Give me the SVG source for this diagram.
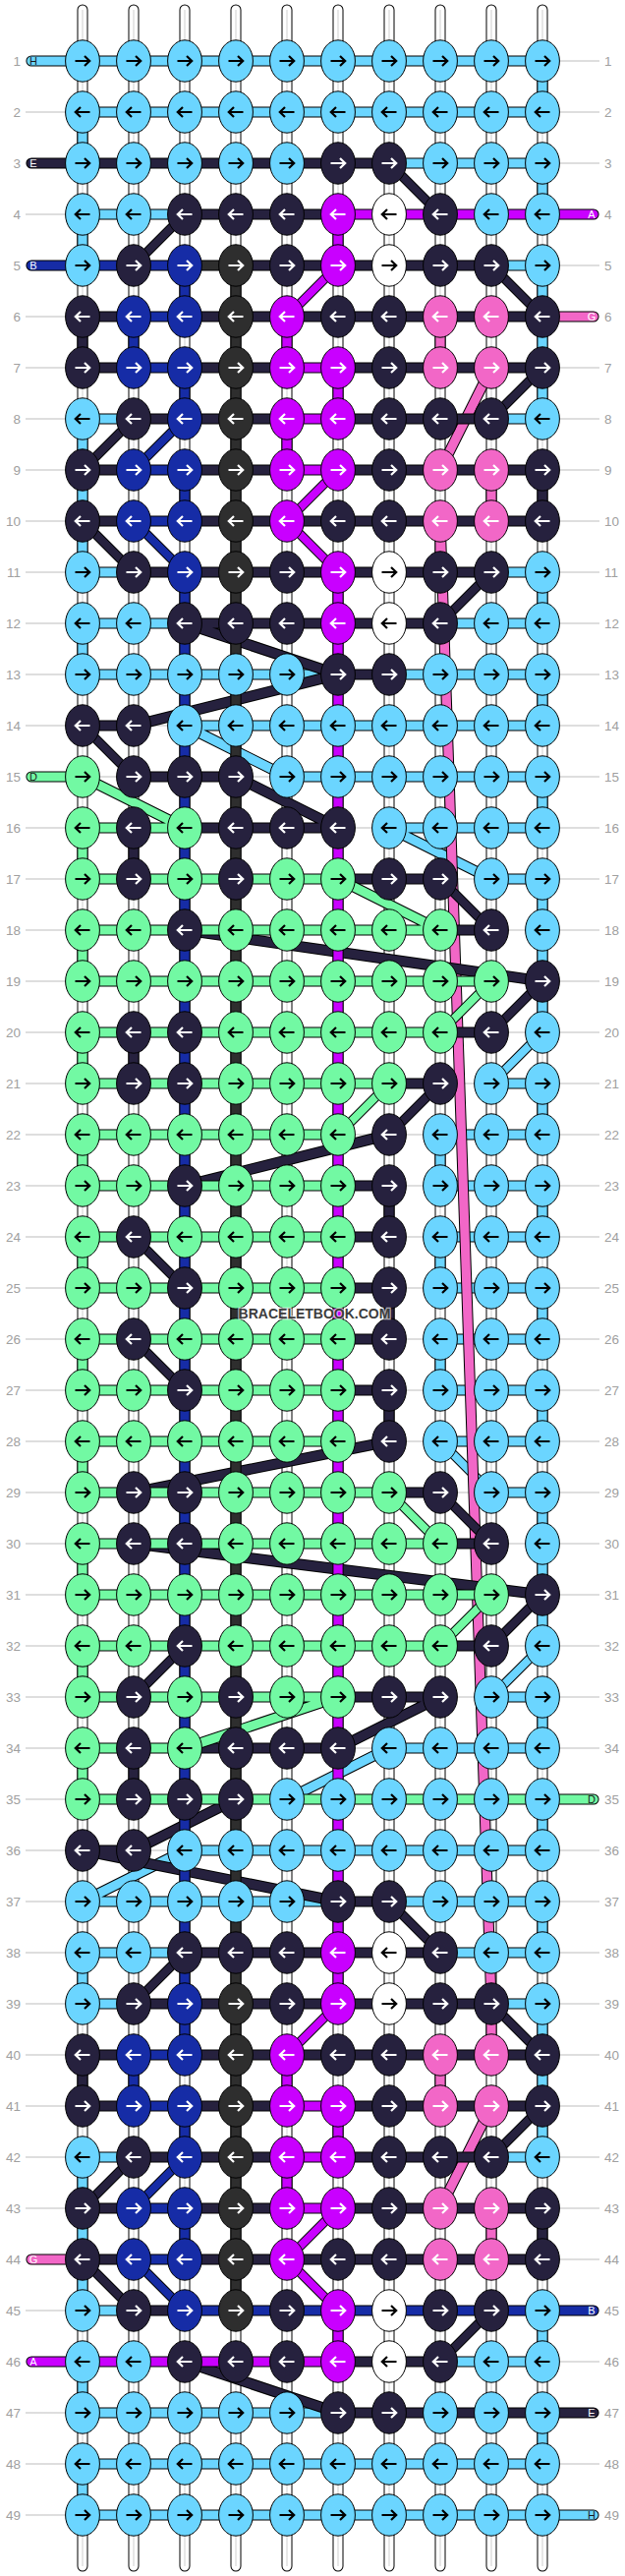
<svg xmlns="http://www.w3.org/2000/svg" width="636" height="2620" viewBox="0 0 636 2620">
<style>
text{font-family:"Liberation Sans",Arial,sans-serif}
.lab{font-size:13.5px;fill:#a0a0a0}
.r{text-anchor:start}.l{text-anchor:end}
.tag{font-size:11px;text-anchor:middle}
.dk{fill:#1a1a1a}.wh{fill:#fff}
.mark{font-size:14px;font-weight:bold;text-anchor:middle;fill:#3c3c3c;stroke:#fff;stroke-opacity:.65;stroke-width:2.4px;paint-order:stroke}
#connectors path,#connectors use{fill:none}
.o{stroke:#000;stroke-width:11.2}.i{stroke-width:9.2}
.od{stroke:#000;stroke-width:9.8}.id{stroke-width:7.8}
.rc{stroke-linecap:round}
.L{stroke:#6bd5ff}.K{stroke:#26213e}.N{stroke:#162ca6}.G{stroke:#2e2e2e}.P{stroke:#c900ff}.M{stroke:#f267c7}.T{stroke:#72f9a3}
.gr{stroke:#bdbdbd;stroke-width:1}
.e{stroke:#000;stroke-width:1}
.fL{fill:#6bd5ff}.fK{fill:#26213e}.fN{fill:#162ca6}.fG{fill:#2e2e2e}.fP{fill:#c900ff}.fM{fill:#f267c7}.fT{fill:#72f9a3}.fW{fill:#fff}
.aw,.ab{fill:none;stroke-width:2.2}.aw{stroke:#fff}.ab{stroke:#000}
</style>
<defs>
<ellipse id="e" rx="17.4" ry="21.2"/>
<path id="ar" d="M-7.5 0H6.5M2 -5L7.2 0L2 5"/>
<path id="al" d="M7.5 0H-6.5M-2 -5L-7.2 0L-2 5"/>
<g id="Lr"><use href="#e" class="fL e"/><use href="#ar" class="ab"/></g>
<g id="Ll"><use href="#e" class="fL e"/><use href="#al" class="ab"/></g>
<g id="Tr"><use href="#e" class="fT e"/><use href="#ar" class="ab"/></g>
<g id="Tl"><use href="#e" class="fT e"/><use href="#al" class="ab"/></g>
<g id="Wr"><use href="#e" class="fW e"/><use href="#ar" class="ab"/></g>
<g id="Wl"><use href="#e" class="fW e"/><use href="#al" class="ab"/></g>
<g id="Kr"><use href="#e" class="fK e"/><use href="#ar" class="aw"/></g>
<g id="Kl"><use href="#e" class="fK e"/><use href="#al" class="aw"/></g>
<g id="Nr"><use href="#e" class="fN e"/><use href="#ar" class="aw"/></g>
<g id="Nl"><use href="#e" class="fN e"/><use href="#al" class="aw"/></g>
<g id="Gr"><use href="#e" class="fG e"/><use href="#ar" class="aw"/></g>
<g id="Gl"><use href="#e" class="fG e"/><use href="#al" class="aw"/></g>
<g id="Pr"><use href="#e" class="fP e"/><use href="#ar" class="aw"/></g>
<g id="Pl"><use href="#e" class="fP e"/><use href="#al" class="aw"/></g>
<g id="Mr"><use href="#e" class="fM e"/><use href="#ar" class="aw"/></g>
<g id="Ml"><use href="#e" class="fM e"/><use href="#al" class="aw"/></g>
<path id="w" d="M84 10V2610M136 10V2610M188 10V2610M240 10V2610M292 10V2610M344 10V2610M396 10V2610M448 10V2610M500 10V2610M552 10V2610"/>
<path id="bL" d="M84 62H552M84 114H552M396 166H552M84 218H188M500 270H552M84 426H136M500 426H552M84 582H136M500 582H552M84 634H188M448 634H552M84 686H344M396 686H552M188 738H552M292 790H552M396 842H552M500 894H552M500 1102H552M448 1154H552M448 1206H552M448 1258H552M448 1310H552M448 1362H552M448 1414H552M448 1466H552M500 1518H552M500 1726H552M396 1778H552M188 1882H552M84 1934H344M396 1934H552M84 1986H188M448 1986H552M84 2038H136M500 2038H552M84 2194H136M500 2194H552M84 2350H136M448 2402H552M84 2454H344M84 2506H552M84 2558H552
M84 114V166M84 218V270M84 426V478M84 478V530M84 530V582M84 634V686M84 1986V2038M84 2194V2246M84 2246V2298M84 2298V2350M84 2402V2454M84 2506V2558
M552 62V114M552 166V218M552 270V322M552 322V374M552 374V426M552 582V634M552 686V738M552 790V842M552 894V946M552 946V998M552 998V1050M552 1102V1154M552 1206V1258M552 1310V1362M552 1414V1466M552 1518V1570M552 1570V1622M552 1622V1674M552 1726V1778M552 1830V1882M552 1934V1986M552 2038V2090M552 2090V2142M552 2142V2194M552 2350V2402M552 2454V2506
M448 1154V1206M448 1258V1310M448 1362V1414
M188 738L292 790M396 842L500 894M396 1778L292 1830M188 1882L84 1934"/>
<path id="dL" d="M552 1050L500 1102M448 1466L500 1518M552 1674L500 1726"/>
<path id="bM" d="M448 530L500 2038M500 374L448 478M500 2142L448 2246M448 322V374M448 530V582M448 2090V2142M500 478V530M500 2038V2090M500 2246V2298"/>
<path id="bK" d="M84 166H396M188 218H344M240 270H500M84 322H136M188 322H552M84 374H136M188 374H292M344 374H552M136 426H292M344 426H500M84 478H136M188 478H292M344 478H552M84 530H136M188 530H552M136 582H500M188 634H448M344 686H396M84 738H136M136 790H240M188 842H344M344 894H448M448 946H500M448 1050H500M396 1102H448M344 1206H396M344 1258H396M344 1310H396M344 1362H396M344 1414H396M396 1518H448M448 1570H500M448 1674H500M344 1726H448M188 1778H344M84 1882H136M344 1934H396M188 1986H448M136 2038H500M84 2090H136M188 2090H552M84 2142H136M188 2142H292M344 2142H552M136 2194H292M344 2194H500M84 2246H136M188 2246H292M344 2246H552M84 2298H136M188 2298H552M136 2350H188M344 2402H448M344 2454H552
M84 322V374M84 2090V2142M136 842V894M136 1050V1102M136 1778V1830M396 1206V1258M396 1310V1362M396 1414V1466M552 478V530M552 2246V2298
M188 634L344 686M136 738L344 686M240 790L344 842M188 946L552 998M396 1154L188 1206M396 1466L136 1518M136 1570L552 1622M448 1726L344 1778M240 1830L136 1882M84 1882L344 1934M188 2402L344 2454"/>
<path id="dK" d="M396 166L448 218M188 218L136 270M500 270L552 322M552 374L500 426M136 426L84 478M84 530L136 582M500 582L448 634M84 738L136 790M448 894L500 946M552 998L500 1050M448 1102L396 1154M136 1258L188 1310M136 1362L188 1414M448 1518L500 1570M552 1622L500 1674M188 1674L136 1726M396 1934L448 1986M188 1986L136 2038M500 2038L552 2090M552 2142L500 2194M136 2194L84 2246M84 2298L136 2350M500 2350L448 2402"/>
<path id="bT" d="M84 842H188M84 894H344M84 946H448M84 998H500M84 1050H448M84 1102H396M84 1154H344M84 1206H344M84 1258H344M84 1310H344M84 1362H344M84 1414H344M84 1466H344M84 1518H396M84 1570H448M84 1622H500M84 1674H448M84 1726H344M84 1778H188M84 1830H552
M84 842V894M84 946V998M84 1050V1102M84 1154V1206M84 1258V1310M84 1362V1414M84 1466V1518M84 1570V1622M84 1674V1726M84 1778V1830
M84 790L188 842M344 894L448 946M344 1726L188 1778"/>
<path id="dT" d="M500 998L448 1050M396 1102L344 1154M396 1518L448 1570M500 1622L448 1674"/>
<path id="bG" d="M188 270H240M240 270V2350"/>
<path id="bN" d="M84 270H188M136 322H188M136 374H188M136 478H188M136 530H188M136 2090H188M136 2142H188M136 2246H188M136 2298H188M188 2350H552
M136 322V374M136 2090V2142M188 270V322M188 374V426M188 478V530M188 582V2090M188 2142V2194M188 2246V2298"/>
<path id="dN" d="M188 426L136 478M136 530L188 582M188 2194L136 2246M136 2298L188 2350"/>
<path id="bP" d="M344 218H552M292 374H344M292 426H344M292 478H344M292 2142H344M292 2194H344M292 2246H344M84 2402H344
M344 218V270M344 374V426M344 582V2038M344 2142V2194M344 2350V2402M292 322V374M292 426V478M292 2090V2142M292 2194V2246"/>
<path id="dP" d="M344 270L292 322M344 478L292 530M292 530L344 582M344 2038L292 2090M344 2246L292 2298M292 2298L344 2350"/>
</defs>
<rect width="636" height="2620" fill="#fff"/>
<g id="guides">
<path class="gr" d="M136 738H188M84 790H136M240 790H292M344 842H396M448 894H500M500 946H552M500 998H552M500 1050H552M448 1102H500M344 1154H448M396 1206H448M396 1258H448M396 1310H448M396 1362H448M396 1414H448M344 1466H448M448 1518H500M500 1570H552M500 1622H552M500 1674H552M448 1726H500M344 1778H396M136 1882H188
M26 114H67M26 218H67M26 322H67M26 374H67M26 426H67M26 478H67M26 530H67M26 582H67M26 634H67M26 686H67M26 738H67M26 842H67M26 894H67M26 946H67M26 998H67M26 1050H67M26 1102H67M26 1154H67M26 1206H67M26 1258H67M26 1310H67M26 1362H67M26 1414H67M26 1466H67M26 1518H67M26 1570H67M26 1622H67M26 1674H67M26 1726H67M26 1778H67M26 1830H67M26 1882H67M26 1934H67M26 1986H67M26 2038H67M26 2090H67M26 2142H67M26 2194H67M26 2246H67M26 2350H67M26 2454H67M26 2506H67M26 2558H67M26 166H26M26 270H26
M570 62H610M570 114H610M570 166H610M570 270H610M570 374H610M570 426H610M570 478H610M570 530H610M570 582H610M570 634H610M570 686H610M570 738H610M570 790H610M570 842H610M570 894H610M570 946H610M570 998H610M570 1050H610M570 1102H610M570 1154H610M570 1206H610M570 1258H610M570 1310H610M570 1362H610M570 1414H610M570 1466H610M570 1518H610M570 1570H610M570 1622H610M570 1674H610M570 1726H610M570 1778H610M570 1882H610M570 1934H610M570 1986H610M570 2038H610M570 2090H610M570 2142H610M570 2194H610M570 2246H610M570 2298H610M570 2402H610M570 2506H610"/>
</g>
<g id="connectors">
<use href="#w" class="rc" stroke="#000" stroke-width="11"/>
<use href="#w" class="rc" stroke="#fff" stroke-width="9"/>
<use href="#w" stroke="#cfcfcf" stroke-width="1"/>
<use href="#bL" class="o"/><use href="#dL" class="od"/><use href="#bL" class="i L"/><use href="#dL" class="id L"/>
<use href="#bM" class="o"/><use href="#bM" class="i M"/>
<use href="#bK" class="o"/><use href="#dK" class="od"/><use href="#bK" class="i K"/><use href="#dK" class="id K"/>
<use href="#bT" class="o"/><use href="#dT" class="od"/><use href="#bT" class="i T"/><use href="#dT" class="id T"/>
<use href="#bG" class="o"/><use href="#bG" class="i G"/>
<use href="#bN" class="o"/><use href="#dN" class="od"/><use href="#bN" class="i N"/><use href="#dN" class="id N"/>
<use href="#bP" class="o"/><use href="#dP" class="od"/><use href="#bP" class="i P"/><use href="#dP" class="id P"/>
<g id="tails">
<path class="o rc" d="M32 62H84M32 166H84M32 270H84M32 790H84M32 2298H84M32 2402H84M552 218H604M552 322H604M552 1830H604M552 2350H604M552 2454H604M552 2558H604"/>
<path class="i rc L" d="M32 62H84M552 2558H604"/>
<path class="i rc K" d="M32 166H84M552 2454H604"/>
<path class="i rc N" d="M32 270H84M552 2350H604"/>
<path class="i rc T" d="M32 790H84M552 1830H604"/>
<path class="i rc M" d="M32 2298H84M552 322H604"/>
<path class="i rc P" d="M32 2402H84M552 218H604"/>
</g>
</g>
<g id="nodes">
<g id="n1-1"><use href="#Lr" x="84" y="62"/></g><g id="n1-2"><use href="#Lr" x="136" y="62"/></g><g id="n1-3"><use href="#Lr" x="188" y="62"/></g><g id="n1-4"><use href="#Lr" x="240" y="62"/></g><g id="n1-5"><use href="#Lr" x="292" y="62"/></g><g id="n1-6"><use href="#Lr" x="344" y="62"/></g><g id="n1-7"><use href="#Lr" x="396" y="62"/></g><g id="n1-8"><use href="#Lr" x="448" y="62"/></g><g id="n1-9"><use href="#Lr" x="500" y="62"/></g><g id="n1-10"><use href="#Lr" x="552" y="62"/></g>
<g id="n2-1"><use href="#Ll" x="84" y="114"/></g><g id="n2-2"><use href="#Ll" x="136" y="114"/></g><g id="n2-3"><use href="#Ll" x="188" y="114"/></g><g id="n2-4"><use href="#Ll" x="240" y="114"/></g><g id="n2-5"><use href="#Ll" x="292" y="114"/></g><g id="n2-6"><use href="#Ll" x="344" y="114"/></g><g id="n2-7"><use href="#Ll" x="396" y="114"/></g><g id="n2-8"><use href="#Ll" x="448" y="114"/></g><g id="n2-9"><use href="#Ll" x="500" y="114"/></g><g id="n2-10"><use href="#Ll" x="552" y="114"/></g>
<g id="n3-1"><use href="#Lr" x="84" y="166"/></g><g id="n3-2"><use href="#Lr" x="136" y="166"/></g><g id="n3-3"><use href="#Lr" x="188" y="166"/></g><g id="n3-4"><use href="#Lr" x="240" y="166"/></g><g id="n3-5"><use href="#Lr" x="292" y="166"/></g><g id="n3-6"><use href="#Kr" x="344" y="166"/></g><g id="n3-7"><use href="#Kr" x="396" y="166"/></g><g id="n3-8"><use href="#Lr" x="448" y="166"/></g><g id="n3-9"><use href="#Lr" x="500" y="166"/></g><g id="n3-10"><use href="#Lr" x="552" y="166"/></g>
<g id="n4-1"><use href="#Ll" x="84" y="218"/></g><g id="n4-2"><use href="#Ll" x="136" y="218"/></g><g id="n4-3"><use href="#Kl" x="188" y="218"/></g><g id="n4-4"><use href="#Kl" x="240" y="218"/></g><g id="n4-5"><use href="#Kl" x="292" y="218"/></g><g id="n4-6"><use href="#Pl" x="344" y="218"/></g><g id="n4-7"><use href="#Wl" x="396" y="218"/></g><g id="n4-8"><use href="#Kl" x="448" y="218"/></g><g id="n4-9"><use href="#Ll" x="500" y="218"/></g><g id="n4-10"><use href="#Ll" x="552" y="218"/></g>
<g id="n5-1"><use href="#Lr" x="84" y="270"/></g><g id="n5-2"><use href="#Kr" x="136" y="270"/></g><g id="n5-3"><use href="#Nr" x="188" y="270"/></g><g id="n5-4"><use href="#Gr" x="240" y="270"/></g><g id="n5-5"><use href="#Kr" x="292" y="270"/></g><g id="n5-6"><use href="#Pr" x="344" y="270"/></g><g id="n5-7"><use href="#Wr" x="396" y="270"/></g><g id="n5-8"><use href="#Kr" x="448" y="270"/></g><g id="n5-9"><use href="#Kr" x="500" y="270"/></g><g id="n5-10"><use href="#Lr" x="552" y="270"/></g>
<g id="n6-1"><use href="#Kl" x="84" y="322"/></g><g id="n6-2"><use href="#Nl" x="136" y="322"/></g><g id="n6-3"><use href="#Nl" x="188" y="322"/></g><g id="n6-4"><use href="#Gl" x="240" y="322"/></g><g id="n6-5"><use href="#Pl" x="292" y="322"/></g><g id="n6-6"><use href="#Kl" x="344" y="322"/></g><g id="n6-7"><use href="#Kl" x="396" y="322"/></g><g id="n6-8"><use href="#Ml" x="448" y="322"/></g><g id="n6-9"><use href="#Ml" x="500" y="322"/></g><g id="n6-10"><use href="#Kl" x="552" y="322"/></g>
<g id="n7-1"><use href="#Kr" x="84" y="374"/></g><g id="n7-2"><use href="#Nr" x="136" y="374"/></g><g id="n7-3"><use href="#Nr" x="188" y="374"/></g><g id="n7-4"><use href="#Gr" x="240" y="374"/></g><g id="n7-5"><use href="#Pr" x="292" y="374"/></g><g id="n7-6"><use href="#Pr" x="344" y="374"/></g><g id="n7-7"><use href="#Kr" x="396" y="374"/></g><g id="n7-8"><use href="#Mr" x="448" y="374"/></g><g id="n7-9"><use href="#Mr" x="500" y="374"/></g><g id="n7-10"><use href="#Kr" x="552" y="374"/></g>
<g id="n8-1"><use href="#Ll" x="84" y="426"/></g><g id="n8-2"><use href="#Kl" x="136" y="426"/></g><g id="n8-3"><use href="#Nl" x="188" y="426"/></g><g id="n8-4"><use href="#Gl" x="240" y="426"/></g><g id="n8-5"><use href="#Pl" x="292" y="426"/></g><g id="n8-6"><use href="#Pl" x="344" y="426"/></g><g id="n8-7"><use href="#Kl" x="396" y="426"/></g><g id="n8-8"><use href="#Kl" x="448" y="426"/></g><g id="n8-9"><use href="#Kl" x="500" y="426"/></g><g id="n8-10"><use href="#Ll" x="552" y="426"/></g>
<g id="n9-1"><use href="#Kr" x="84" y="478"/></g><g id="n9-2"><use href="#Nr" x="136" y="478"/></g><g id="n9-3"><use href="#Nr" x="188" y="478"/></g><g id="n9-4"><use href="#Gr" x="240" y="478"/></g><g id="n9-5"><use href="#Pr" x="292" y="478"/></g><g id="n9-6"><use href="#Pr" x="344" y="478"/></g><g id="n9-7"><use href="#Kr" x="396" y="478"/></g><g id="n9-8"><use href="#Mr" x="448" y="478"/></g><g id="n9-9"><use href="#Mr" x="500" y="478"/></g><g id="n9-10"><use href="#Kr" x="552" y="478"/></g>
<g id="n10-1"><use href="#Kl" x="84" y="530"/></g><g id="n10-2"><use href="#Nl" x="136" y="530"/></g><g id="n10-3"><use href="#Nl" x="188" y="530"/></g><g id="n10-4"><use href="#Gl" x="240" y="530"/></g><g id="n10-5"><use href="#Pl" x="292" y="530"/></g><g id="n10-6"><use href="#Kl" x="344" y="530"/></g><g id="n10-7"><use href="#Kl" x="396" y="530"/></g><g id="n10-8"><use href="#Ml" x="448" y="530"/></g><g id="n10-9"><use href="#Ml" x="500" y="530"/></g><g id="n10-10"><use href="#Kl" x="552" y="530"/></g>
<g id="n11-1"><use href="#Lr" x="84" y="582"/></g><g id="n11-2"><use href="#Kr" x="136" y="582"/></g><g id="n11-3"><use href="#Nr" x="188" y="582"/></g><g id="n11-4"><use href="#Gr" x="240" y="582"/></g><g id="n11-5"><use href="#Kr" x="292" y="582"/></g><g id="n11-6"><use href="#Pr" x="344" y="582"/></g><g id="n11-7"><use href="#Wr" x="396" y="582"/></g><g id="n11-8"><use href="#Kr" x="448" y="582"/></g><g id="n11-9"><use href="#Kr" x="500" y="582"/></g><g id="n11-10"><use href="#Lr" x="552" y="582"/></g>
<g id="n12-1"><use href="#Ll" x="84" y="634"/></g><g id="n12-2"><use href="#Ll" x="136" y="634"/></g><g id="n12-3"><use href="#Kl" x="188" y="634"/></g><g id="n12-4"><use href="#Kl" x="240" y="634"/></g><g id="n12-5"><use href="#Kl" x="292" y="634"/></g><g id="n12-6"><use href="#Pl" x="344" y="634"/></g><g id="n12-7"><use href="#Wl" x="396" y="634"/></g><g id="n12-8"><use href="#Kl" x="448" y="634"/></g><g id="n12-9"><use href="#Ll" x="500" y="634"/></g><g id="n12-10"><use href="#Ll" x="552" y="634"/></g>
<g id="n13-1"><use href="#Lr" x="84" y="686"/></g><g id="n13-2"><use href="#Lr" x="136" y="686"/></g><g id="n13-3"><use href="#Lr" x="188" y="686"/></g><g id="n13-4"><use href="#Lr" x="240" y="686"/></g><g id="n13-5"><use href="#Lr" x="292" y="686"/></g><g id="n13-6"><use href="#Kr" x="344" y="686"/></g><g id="n13-7"><use href="#Kr" x="396" y="686"/></g><g id="n13-8"><use href="#Lr" x="448" y="686"/></g><g id="n13-9"><use href="#Lr" x="500" y="686"/></g><g id="n13-10"><use href="#Lr" x="552" y="686"/></g>
<g id="n14-1"><use href="#Kl" x="84" y="738"/></g><g id="n14-2"><use href="#Kl" x="136" y="738"/></g><g id="n14-3"><use href="#Ll" x="188" y="738"/></g><g id="n14-4"><use href="#Ll" x="240" y="738"/></g><g id="n14-5"><use href="#Ll" x="292" y="738"/></g><g id="n14-6"><use href="#Ll" x="344" y="738"/></g><g id="n14-7"><use href="#Ll" x="396" y="738"/></g><g id="n14-8"><use href="#Ll" x="448" y="738"/></g><g id="n14-9"><use href="#Ll" x="500" y="738"/></g><g id="n14-10"><use href="#Ll" x="552" y="738"/></g>
<g id="n15-1"><use href="#Tr" x="84" y="790"/></g><g id="n15-2"><use href="#Kr" x="136" y="790"/></g><g id="n15-3"><use href="#Kr" x="188" y="790"/></g><g id="n15-4"><use href="#Kr" x="240" y="790"/></g><g id="n15-5"><use href="#Lr" x="292" y="790"/></g><g id="n15-6"><use href="#Lr" x="344" y="790"/></g><g id="n15-7"><use href="#Lr" x="396" y="790"/></g><g id="n15-8"><use href="#Lr" x="448" y="790"/></g><g id="n15-9"><use href="#Lr" x="500" y="790"/></g><g id="n15-10"><use href="#Lr" x="552" y="790"/></g>
<g id="n16-1"><use href="#Tl" x="84" y="842"/></g><g id="n16-2"><use href="#Kl" x="136" y="842"/></g><g id="n16-3"><use href="#Tl" x="188" y="842"/></g><g id="n16-4"><use href="#Kl" x="240" y="842"/></g><g id="n16-5"><use href="#Kl" x="292" y="842"/></g><g id="n16-6"><use href="#Kl" x="344" y="842"/></g><g id="n16-7"><use href="#Ll" x="396" y="842"/></g><g id="n16-8"><use href="#Ll" x="448" y="842"/></g><g id="n16-9"><use href="#Ll" x="500" y="842"/></g><g id="n16-10"><use href="#Ll" x="552" y="842"/></g>
<g id="n17-1"><use href="#Tr" x="84" y="894"/></g><g id="n17-2"><use href="#Kr" x="136" y="894"/></g><g id="n17-3"><use href="#Tr" x="188" y="894"/></g><g id="n17-4"><use href="#Kr" x="240" y="894"/></g><g id="n17-5"><use href="#Tr" x="292" y="894"/></g><g id="n17-6"><use href="#Tr" x="344" y="894"/></g><g id="n17-7"><use href="#Kr" x="396" y="894"/></g><g id="n17-8"><use href="#Kr" x="448" y="894"/></g><g id="n17-9"><use href="#Lr" x="500" y="894"/></g><g id="n17-10"><use href="#Lr" x="552" y="894"/></g>
<g id="n18-1"><use href="#Tl" x="84" y="946"/></g><g id="n18-2"><use href="#Tl" x="136" y="946"/></g><g id="n18-3"><use href="#Kl" x="188" y="946"/></g><g id="n18-4"><use href="#Tl" x="240" y="946"/></g><g id="n18-5"><use href="#Tl" x="292" y="946"/></g><g id="n18-6"><use href="#Tl" x="344" y="946"/></g><g id="n18-7"><use href="#Tl" x="396" y="946"/></g><g id="n18-8"><use href="#Tl" x="448" y="946"/></g><g id="n18-9"><use href="#Kl" x="500" y="946"/></g><g id="n18-10"><use href="#Ll" x="552" y="946"/></g>
<g id="n19-1"><use href="#Tr" x="84" y="998"/></g><g id="n19-2"><use href="#Tr" x="136" y="998"/></g><g id="n19-3"><use href="#Tr" x="188" y="998"/></g><g id="n19-4"><use href="#Tr" x="240" y="998"/></g><g id="n19-5"><use href="#Tr" x="292" y="998"/></g><g id="n19-6"><use href="#Tr" x="344" y="998"/></g><g id="n19-7"><use href="#Tr" x="396" y="998"/></g><g id="n19-8"><use href="#Tr" x="448" y="998"/></g><g id="n19-9"><use href="#Tr" x="500" y="998"/></g><g id="n19-10"><use href="#Kr" x="552" y="998"/></g>
<g id="n20-1"><use href="#Tl" x="84" y="1050"/></g><g id="n20-2"><use href="#Kl" x="136" y="1050"/></g><g id="n20-3"><use href="#Kl" x="188" y="1050"/></g><g id="n20-4"><use href="#Tl" x="240" y="1050"/></g><g id="n20-5"><use href="#Tl" x="292" y="1050"/></g><g id="n20-6"><use href="#Tl" x="344" y="1050"/></g><g id="n20-7"><use href="#Tl" x="396" y="1050"/></g><g id="n20-8"><use href="#Tl" x="448" y="1050"/></g><g id="n20-9"><use href="#Kl" x="500" y="1050"/></g><g id="n20-10"><use href="#Ll" x="552" y="1050"/></g>
<g id="n21-1"><use href="#Tr" x="84" y="1102"/></g><g id="n21-2"><use href="#Kr" x="136" y="1102"/></g><g id="n21-3"><use href="#Kr" x="188" y="1102"/></g><g id="n21-4"><use href="#Tr" x="240" y="1102"/></g><g id="n21-5"><use href="#Tr" x="292" y="1102"/></g><g id="n21-6"><use href="#Tr" x="344" y="1102"/></g><g id="n21-7"><use href="#Tr" x="396" y="1102"/></g><g id="n21-8"><use href="#Kr" x="448" y="1102"/></g><g id="n21-9"><use href="#Lr" x="500" y="1102"/></g><g id="n21-10"><use href="#Lr" x="552" y="1102"/></g>
<g id="n22-1"><use href="#Tl" x="84" y="1154"/></g><g id="n22-2"><use href="#Tl" x="136" y="1154"/></g><g id="n22-3"><use href="#Tl" x="188" y="1154"/></g><g id="n22-4"><use href="#Tl" x="240" y="1154"/></g><g id="n22-5"><use href="#Tl" x="292" y="1154"/></g><g id="n22-6"><use href="#Tl" x="344" y="1154"/></g><g id="n22-7"><use href="#Kl" x="396" y="1154"/></g><g id="n22-8"><use href="#Ll" x="448" y="1154"/></g><g id="n22-9"><use href="#Ll" x="500" y="1154"/></g><g id="n22-10"><use href="#Ll" x="552" y="1154"/></g>
<g id="n23-1"><use href="#Tr" x="84" y="1206"/></g><g id="n23-2"><use href="#Tr" x="136" y="1206"/></g><g id="n23-3"><use href="#Kr" x="188" y="1206"/></g><g id="n23-4"><use href="#Tr" x="240" y="1206"/></g><g id="n23-5"><use href="#Tr" x="292" y="1206"/></g><g id="n23-6"><use href="#Tr" x="344" y="1206"/></g><g id="n23-7"><use href="#Kr" x="396" y="1206"/></g><g id="n23-8"><use href="#Lr" x="448" y="1206"/></g><g id="n23-9"><use href="#Lr" x="500" y="1206"/></g><g id="n23-10"><use href="#Lr" x="552" y="1206"/></g>
<g id="n24-1"><use href="#Tl" x="84" y="1258"/></g><g id="n24-2"><use href="#Kl" x="136" y="1258"/></g><g id="n24-3"><use href="#Tl" x="188" y="1258"/></g><g id="n24-4"><use href="#Tl" x="240" y="1258"/></g><g id="n24-5"><use href="#Tl" x="292" y="1258"/></g><g id="n24-6"><use href="#Tl" x="344" y="1258"/></g><g id="n24-7"><use href="#Kl" x="396" y="1258"/></g><g id="n24-8"><use href="#Ll" x="448" y="1258"/></g><g id="n24-9"><use href="#Ll" x="500" y="1258"/></g><g id="n24-10"><use href="#Ll" x="552" y="1258"/></g>
<g id="n25-1"><use href="#Tr" x="84" y="1310"/></g><g id="n25-2"><use href="#Tr" x="136" y="1310"/></g><g id="n25-3"><use href="#Kr" x="188" y="1310"/></g><g id="n25-4"><use href="#Tr" x="240" y="1310"/></g><g id="n25-5"><use href="#Tr" x="292" y="1310"/></g><g id="n25-6"><use href="#Tr" x="344" y="1310"/></g><g id="n25-7"><use href="#Kr" x="396" y="1310"/></g><g id="n25-8"><use href="#Lr" x="448" y="1310"/></g><g id="n25-9"><use href="#Lr" x="500" y="1310"/></g><g id="n25-10"><use href="#Lr" x="552" y="1310"/></g>
<g id="n26-1"><use href="#Tl" x="84" y="1362"/></g><g id="n26-2"><use href="#Kl" x="136" y="1362"/></g><g id="n26-3"><use href="#Tl" x="188" y="1362"/></g><g id="n26-4"><use href="#Tl" x="240" y="1362"/></g><g id="n26-5"><use href="#Tl" x="292" y="1362"/></g><g id="n26-6"><use href="#Tl" x="344" y="1362"/></g><g id="n26-7"><use href="#Kl" x="396" y="1362"/></g><g id="n26-8"><use href="#Ll" x="448" y="1362"/></g><g id="n26-9"><use href="#Ll" x="500" y="1362"/></g><g id="n26-10"><use href="#Ll" x="552" y="1362"/></g>
<g id="n27-1"><use href="#Tr" x="84" y="1414"/></g><g id="n27-2"><use href="#Tr" x="136" y="1414"/></g><g id="n27-3"><use href="#Kr" x="188" y="1414"/></g><g id="n27-4"><use href="#Tr" x="240" y="1414"/></g><g id="n27-5"><use href="#Tr" x="292" y="1414"/></g><g id="n27-6"><use href="#Tr" x="344" y="1414"/></g><g id="n27-7"><use href="#Kr" x="396" y="1414"/></g><g id="n27-8"><use href="#Lr" x="448" y="1414"/></g><g id="n27-9"><use href="#Lr" x="500" y="1414"/></g><g id="n27-10"><use href="#Lr" x="552" y="1414"/></g>
<g id="n28-1"><use href="#Tl" x="84" y="1466"/></g><g id="n28-2"><use href="#Tl" x="136" y="1466"/></g><g id="n28-3"><use href="#Tl" x="188" y="1466"/></g><g id="n28-4"><use href="#Tl" x="240" y="1466"/></g><g id="n28-5"><use href="#Tl" x="292" y="1466"/></g><g id="n28-6"><use href="#Tl" x="344" y="1466"/></g><g id="n28-7"><use href="#Kl" x="396" y="1466"/></g><g id="n28-8"><use href="#Ll" x="448" y="1466"/></g><g id="n28-9"><use href="#Ll" x="500" y="1466"/></g><g id="n28-10"><use href="#Ll" x="552" y="1466"/></g>
<g id="n29-1"><use href="#Tr" x="84" y="1518"/></g><g id="n29-2"><use href="#Kr" x="136" y="1518"/></g><g id="n29-3"><use href="#Kr" x="188" y="1518"/></g><g id="n29-4"><use href="#Tr" x="240" y="1518"/></g><g id="n29-5"><use href="#Tr" x="292" y="1518"/></g><g id="n29-6"><use href="#Tr" x="344" y="1518"/></g><g id="n29-7"><use href="#Tr" x="396" y="1518"/></g><g id="n29-8"><use href="#Kr" x="448" y="1518"/></g><g id="n29-9"><use href="#Lr" x="500" y="1518"/></g><g id="n29-10"><use href="#Lr" x="552" y="1518"/></g>
<g id="n30-1"><use href="#Tl" x="84" y="1570"/></g><g id="n30-2"><use href="#Kl" x="136" y="1570"/></g><g id="n30-3"><use href="#Kl" x="188" y="1570"/></g><g id="n30-4"><use href="#Tl" x="240" y="1570"/></g><g id="n30-5"><use href="#Tl" x="292" y="1570"/></g><g id="n30-6"><use href="#Tl" x="344" y="1570"/></g><g id="n30-7"><use href="#Tl" x="396" y="1570"/></g><g id="n30-8"><use href="#Tl" x="448" y="1570"/></g><g id="n30-9"><use href="#Kl" x="500" y="1570"/></g><g id="n30-10"><use href="#Ll" x="552" y="1570"/></g>
<g id="n31-1"><use href="#Tr" x="84" y="1622"/></g><g id="n31-2"><use href="#Tr" x="136" y="1622"/></g><g id="n31-3"><use href="#Tr" x="188" y="1622"/></g><g id="n31-4"><use href="#Tr" x="240" y="1622"/></g><g id="n31-5"><use href="#Tr" x="292" y="1622"/></g><g id="n31-6"><use href="#Tr" x="344" y="1622"/></g><g id="n31-7"><use href="#Tr" x="396" y="1622"/></g><g id="n31-8"><use href="#Tr" x="448" y="1622"/></g><g id="n31-9"><use href="#Tr" x="500" y="1622"/></g><g id="n31-10"><use href="#Kr" x="552" y="1622"/></g>
<g id="n32-1"><use href="#Tl" x="84" y="1674"/></g><g id="n32-2"><use href="#Tl" x="136" y="1674"/></g><g id="n32-3"><use href="#Kl" x="188" y="1674"/></g><g id="n32-4"><use href="#Tl" x="240" y="1674"/></g><g id="n32-5"><use href="#Tl" x="292" y="1674"/></g><g id="n32-6"><use href="#Tl" x="344" y="1674"/></g><g id="n32-7"><use href="#Tl" x="396" y="1674"/></g><g id="n32-8"><use href="#Tl" x="448" y="1674"/></g><g id="n32-9"><use href="#Kl" x="500" y="1674"/></g><g id="n32-10"><use href="#Ll" x="552" y="1674"/></g>
<g id="n33-1"><use href="#Tr" x="84" y="1726"/></g><g id="n33-2"><use href="#Kr" x="136" y="1726"/></g><g id="n33-3"><use href="#Tr" x="188" y="1726"/></g><g id="n33-4"><use href="#Kr" x="240" y="1726"/></g><g id="n33-5"><use href="#Tr" x="292" y="1726"/></g><g id="n33-6"><use href="#Tr" x="344" y="1726"/></g><g id="n33-7"><use href="#Kr" x="396" y="1726"/></g><g id="n33-8"><use href="#Kr" x="448" y="1726"/></g><g id="n33-9"><use href="#Lr" x="500" y="1726"/></g><g id="n33-10"><use href="#Lr" x="552" y="1726"/></g>
<g id="n34-1"><use href="#Tl" x="84" y="1778"/></g><g id="n34-2"><use href="#Kl" x="136" y="1778"/></g><g id="n34-3"><use href="#Tl" x="188" y="1778"/></g><g id="n34-4"><use href="#Kl" x="240" y="1778"/></g><g id="n34-5"><use href="#Kl" x="292" y="1778"/></g><g id="n34-6"><use href="#Kl" x="344" y="1778"/></g><g id="n34-7"><use href="#Ll" x="396" y="1778"/></g><g id="n34-8"><use href="#Ll" x="448" y="1778"/></g><g id="n34-9"><use href="#Ll" x="500" y="1778"/></g><g id="n34-10"><use href="#Ll" x="552" y="1778"/></g>
<g id="n35-1"><use href="#Tr" x="84" y="1830"/></g><g id="n35-2"><use href="#Kr" x="136" y="1830"/></g><g id="n35-3"><use href="#Kr" x="188" y="1830"/></g><g id="n35-4"><use href="#Kr" x="240" y="1830"/></g><g id="n35-5"><use href="#Lr" x="292" y="1830"/></g><g id="n35-6"><use href="#Lr" x="344" y="1830"/></g><g id="n35-7"><use href="#Lr" x="396" y="1830"/></g><g id="n35-8"><use href="#Lr" x="448" y="1830"/></g><g id="n35-9"><use href="#Lr" x="500" y="1830"/></g><g id="n35-10"><use href="#Lr" x="552" y="1830"/></g>
<g id="n36-1"><use href="#Kl" x="84" y="1882"/></g><g id="n36-2"><use href="#Kl" x="136" y="1882"/></g><g id="n36-3"><use href="#Ll" x="188" y="1882"/></g><g id="n36-4"><use href="#Ll" x="240" y="1882"/></g><g id="n36-5"><use href="#Ll" x="292" y="1882"/></g><g id="n36-6"><use href="#Ll" x="344" y="1882"/></g><g id="n36-7"><use href="#Ll" x="396" y="1882"/></g><g id="n36-8"><use href="#Ll" x="448" y="1882"/></g><g id="n36-9"><use href="#Ll" x="500" y="1882"/></g><g id="n36-10"><use href="#Ll" x="552" y="1882"/></g>
<g id="n37-1"><use href="#Lr" x="84" y="1934"/></g><g id="n37-2"><use href="#Lr" x="136" y="1934"/></g><g id="n37-3"><use href="#Lr" x="188" y="1934"/></g><g id="n37-4"><use href="#Lr" x="240" y="1934"/></g><g id="n37-5"><use href="#Lr" x="292" y="1934"/></g><g id="n37-6"><use href="#Kr" x="344" y="1934"/></g><g id="n37-7"><use href="#Kr" x="396" y="1934"/></g><g id="n37-8"><use href="#Lr" x="448" y="1934"/></g><g id="n37-9"><use href="#Lr" x="500" y="1934"/></g><g id="n37-10"><use href="#Lr" x="552" y="1934"/></g>
<g id="n38-1"><use href="#Ll" x="84" y="1986"/></g><g id="n38-2"><use href="#Ll" x="136" y="1986"/></g><g id="n38-3"><use href="#Kl" x="188" y="1986"/></g><g id="n38-4"><use href="#Kl" x="240" y="1986"/></g><g id="n38-5"><use href="#Kl" x="292" y="1986"/></g><g id="n38-6"><use href="#Pl" x="344" y="1986"/></g><g id="n38-7"><use href="#Wl" x="396" y="1986"/></g><g id="n38-8"><use href="#Kl" x="448" y="1986"/></g><g id="n38-9"><use href="#Ll" x="500" y="1986"/></g><g id="n38-10"><use href="#Ll" x="552" y="1986"/></g>
<g id="n39-1"><use href="#Lr" x="84" y="2038"/></g><g id="n39-2"><use href="#Kr" x="136" y="2038"/></g><g id="n39-3"><use href="#Nr" x="188" y="2038"/></g><g id="n39-4"><use href="#Gr" x="240" y="2038"/></g><g id="n39-5"><use href="#Kr" x="292" y="2038"/></g><g id="n39-6"><use href="#Pr" x="344" y="2038"/></g><g id="n39-7"><use href="#Wr" x="396" y="2038"/></g><g id="n39-8"><use href="#Kr" x="448" y="2038"/></g><g id="n39-9"><use href="#Kr" x="500" y="2038"/></g><g id="n39-10"><use href="#Lr" x="552" y="2038"/></g>
<g id="n40-1"><use href="#Kl" x="84" y="2090"/></g><g id="n40-2"><use href="#Nl" x="136" y="2090"/></g><g id="n40-3"><use href="#Nl" x="188" y="2090"/></g><g id="n40-4"><use href="#Gl" x="240" y="2090"/></g><g id="n40-5"><use href="#Pl" x="292" y="2090"/></g><g id="n40-6"><use href="#Kl" x="344" y="2090"/></g><g id="n40-7"><use href="#Kl" x="396" y="2090"/></g><g id="n40-8"><use href="#Ml" x="448" y="2090"/></g><g id="n40-9"><use href="#Ml" x="500" y="2090"/></g><g id="n40-10"><use href="#Kl" x="552" y="2090"/></g>
<g id="n41-1"><use href="#Kr" x="84" y="2142"/></g><g id="n41-2"><use href="#Nr" x="136" y="2142"/></g><g id="n41-3"><use href="#Nr" x="188" y="2142"/></g><g id="n41-4"><use href="#Gr" x="240" y="2142"/></g><g id="n41-5"><use href="#Pr" x="292" y="2142"/></g><g id="n41-6"><use href="#Pr" x="344" y="2142"/></g><g id="n41-7"><use href="#Kr" x="396" y="2142"/></g><g id="n41-8"><use href="#Mr" x="448" y="2142"/></g><g id="n41-9"><use href="#Mr" x="500" y="2142"/></g><g id="n41-10"><use href="#Kr" x="552" y="2142"/></g>
<g id="n42-1"><use href="#Ll" x="84" y="2194"/></g><g id="n42-2"><use href="#Kl" x="136" y="2194"/></g><g id="n42-3"><use href="#Nl" x="188" y="2194"/></g><g id="n42-4"><use href="#Gl" x="240" y="2194"/></g><g id="n42-5"><use href="#Pl" x="292" y="2194"/></g><g id="n42-6"><use href="#Pl" x="344" y="2194"/></g><g id="n42-7"><use href="#Kl" x="396" y="2194"/></g><g id="n42-8"><use href="#Kl" x="448" y="2194"/></g><g id="n42-9"><use href="#Kl" x="500" y="2194"/></g><g id="n42-10"><use href="#Ll" x="552" y="2194"/></g>
<g id="n43-1"><use href="#Kr" x="84" y="2246"/></g><g id="n43-2"><use href="#Nr" x="136" y="2246"/></g><g id="n43-3"><use href="#Nr" x="188" y="2246"/></g><g id="n43-4"><use href="#Gr" x="240" y="2246"/></g><g id="n43-5"><use href="#Pr" x="292" y="2246"/></g><g id="n43-6"><use href="#Pr" x="344" y="2246"/></g><g id="n43-7"><use href="#Kr" x="396" y="2246"/></g><g id="n43-8"><use href="#Mr" x="448" y="2246"/></g><g id="n43-9"><use href="#Mr" x="500" y="2246"/></g><g id="n43-10"><use href="#Kr" x="552" y="2246"/></g>
<g id="n44-1"><use href="#Kl" x="84" y="2298"/></g><g id="n44-2"><use href="#Nl" x="136" y="2298"/></g><g id="n44-3"><use href="#Nl" x="188" y="2298"/></g><g id="n44-4"><use href="#Gl" x="240" y="2298"/></g><g id="n44-5"><use href="#Pl" x="292" y="2298"/></g><g id="n44-6"><use href="#Kl" x="344" y="2298"/></g><g id="n44-7"><use href="#Kl" x="396" y="2298"/></g><g id="n44-8"><use href="#Ml" x="448" y="2298"/></g><g id="n44-9"><use href="#Ml" x="500" y="2298"/></g><g id="n44-10"><use href="#Kl" x="552" y="2298"/></g>
<g id="n45-1"><use href="#Lr" x="84" y="2350"/></g><g id="n45-2"><use href="#Kr" x="136" y="2350"/></g><g id="n45-3"><use href="#Nr" x="188" y="2350"/></g><g id="n45-4"><use href="#Gr" x="240" y="2350"/></g><g id="n45-5"><use href="#Kr" x="292" y="2350"/></g><g id="n45-6"><use href="#Pr" x="344" y="2350"/></g><g id="n45-7"><use href="#Wr" x="396" y="2350"/></g><g id="n45-8"><use href="#Kr" x="448" y="2350"/></g><g id="n45-9"><use href="#Kr" x="500" y="2350"/></g><g id="n45-10"><use href="#Lr" x="552" y="2350"/></g>
<g id="n46-1"><use href="#Ll" x="84" y="2402"/></g><g id="n46-2"><use href="#Ll" x="136" y="2402"/></g><g id="n46-3"><use href="#Kl" x="188" y="2402"/></g><g id="n46-4"><use href="#Kl" x="240" y="2402"/></g><g id="n46-5"><use href="#Kl" x="292" y="2402"/></g><g id="n46-6"><use href="#Pl" x="344" y="2402"/></g><g id="n46-7"><use href="#Wl" x="396" y="2402"/></g><g id="n46-8"><use href="#Kl" x="448" y="2402"/></g><g id="n46-9"><use href="#Ll" x="500" y="2402"/></g><g id="n46-10"><use href="#Ll" x="552" y="2402"/></g>
<g id="n47-1"><use href="#Lr" x="84" y="2454"/></g><g id="n47-2"><use href="#Lr" x="136" y="2454"/></g><g id="n47-3"><use href="#Lr" x="188" y="2454"/></g><g id="n47-4"><use href="#Lr" x="240" y="2454"/></g><g id="n47-5"><use href="#Lr" x="292" y="2454"/></g><g id="n47-6"><use href="#Kr" x="344" y="2454"/></g><g id="n47-7"><use href="#Kr" x="396" y="2454"/></g><g id="n47-8"><use href="#Lr" x="448" y="2454"/></g><g id="n47-9"><use href="#Lr" x="500" y="2454"/></g><g id="n47-10"><use href="#Lr" x="552" y="2454"/></g>
<g id="n48-1"><use href="#Ll" x="84" y="2506"/></g><g id="n48-2"><use href="#Ll" x="136" y="2506"/></g><g id="n48-3"><use href="#Ll" x="188" y="2506"/></g><g id="n48-4"><use href="#Ll" x="240" y="2506"/></g><g id="n48-5"><use href="#Ll" x="292" y="2506"/></g><g id="n48-6"><use href="#Ll" x="344" y="2506"/></g><g id="n48-7"><use href="#Ll" x="396" y="2506"/></g><g id="n48-8"><use href="#Ll" x="448" y="2506"/></g><g id="n48-9"><use href="#Ll" x="500" y="2506"/></g><g id="n48-10"><use href="#Ll" x="552" y="2506"/></g>
<g id="n49-1"><use href="#Lr" x="84" y="2558"/></g><g id="n49-2"><use href="#Lr" x="136" y="2558"/></g><g id="n49-3"><use href="#Lr" x="188" y="2558"/></g><g id="n49-4"><use href="#Lr" x="240" y="2558"/></g><g id="n49-5"><use href="#Lr" x="292" y="2558"/></g><g id="n49-6"><use href="#Lr" x="344" y="2558"/></g><g id="n49-7"><use href="#Lr" x="396" y="2558"/></g><g id="n49-8"><use href="#Lr" x="448" y="2558"/></g><g id="n49-9"><use href="#Lr" x="500" y="2558"/></g><g id="n49-10"><use href="#Lr" x="552" y="2558"/></g>
</g>
<g id="labels">
<text class="tag dk" x="34" y="66">H</text><text class="tag wh" x="34" y="170">E</text><text class="tag wh" x="34" y="274">B</text><text class="tag dk" x="34" y="794">D</text><text class="tag wh" x="34" y="2302">G</text><text class="tag wh" x="34" y="2406">A</text>
<text class="tag wh" x="602" y="222">A</text><text class="tag wh" x="602" y="326">G</text><text class="tag dk" x="602" y="1834">D</text><text class="tag wh" x="602" y="2354">B</text><text class="tag wh" x="602" y="2458">E</text><text class="tag dk" x="602" y="2562">H</text>
<g class="lab l"><text x="21" y="67">1</text><text x="21" y="119">2</text><text x="21" y="171">3</text><text x="21" y="223">4</text><text x="21" y="275">5</text><text x="21" y="327">6</text><text x="21" y="379">7</text><text x="21" y="431">8</text><text x="21" y="483">9</text><text x="21" y="535">10</text><text x="21" y="587">11</text><text x="21" y="639">12</text><text x="21" y="691">13</text><text x="21" y="743">14</text><text x="21" y="795">15</text><text x="21" y="847">16</text><text x="21" y="899">17</text><text x="21" y="951">18</text><text x="21" y="1003">19</text><text x="21" y="1055">20</text><text x="21" y="1107">21</text><text x="21" y="1159">22</text><text x="21" y="1211">23</text><text x="21" y="1263">24</text><text x="21" y="1315">25</text><text x="21" y="1367">26</text><text x="21" y="1419">27</text><text x="21" y="1471">28</text><text x="21" y="1523">29</text><text x="21" y="1575">30</text><text x="21" y="1627">31</text><text x="21" y="1679">32</text><text x="21" y="1731">33</text><text x="21" y="1783">34</text><text x="21" y="1835">35</text><text x="21" y="1887">36</text><text x="21" y="1939">37</text><text x="21" y="1991">38</text><text x="21" y="2043">39</text><text x="21" y="2095">40</text><text x="21" y="2147">41</text><text x="21" y="2199">42</text><text x="21" y="2251">43</text><text x="21" y="2303">44</text><text x="21" y="2355">45</text><text x="21" y="2407">46</text><text x="21" y="2459">47</text><text x="21" y="2511">48</text><text x="21" y="2563">49</text></g>
<g class="lab r"><text x="615" y="67">1</text><text x="615" y="119">2</text><text x="615" y="171">3</text><text x="615" y="223">4</text><text x="615" y="275">5</text><text x="615" y="327">6</text><text x="615" y="379">7</text><text x="615" y="431">8</text><text x="615" y="483">9</text><text x="615" y="535">10</text><text x="615" y="587">11</text><text x="615" y="639">12</text><text x="615" y="691">13</text><text x="615" y="743">14</text><text x="615" y="795">15</text><text x="615" y="847">16</text><text x="615" y="899">17</text><text x="615" y="951">18</text><text x="615" y="1003">19</text><text x="615" y="1055">20</text><text x="615" y="1107">21</text><text x="615" y="1159">22</text><text x="615" y="1211">23</text><text x="615" y="1263">24</text><text x="615" y="1315">25</text><text x="615" y="1367">26</text><text x="615" y="1419">27</text><text x="615" y="1471">28</text><text x="615" y="1523">29</text><text x="615" y="1575">30</text><text x="615" y="1627">31</text><text x="615" y="1679">32</text><text x="615" y="1731">33</text><text x="615" y="1783">34</text><text x="615" y="1835">35</text><text x="615" y="1887">36</text><text x="615" y="1939">37</text><text x="615" y="1991">38</text><text x="615" y="2043">39</text><text x="615" y="2095">40</text><text x="615" y="2147">41</text><text x="615" y="2199">42</text><text x="615" y="2251">43</text><text x="615" y="2303">44</text><text x="615" y="2355">45</text><text x="615" y="2407">46</text><text x="615" y="2459">47</text><text x="615" y="2511">48</text><text x="615" y="2563">49</text></g>
<text class="mark" x="320" y="1341">BRACELETBOOK.COM</text>
</g>
</svg>
